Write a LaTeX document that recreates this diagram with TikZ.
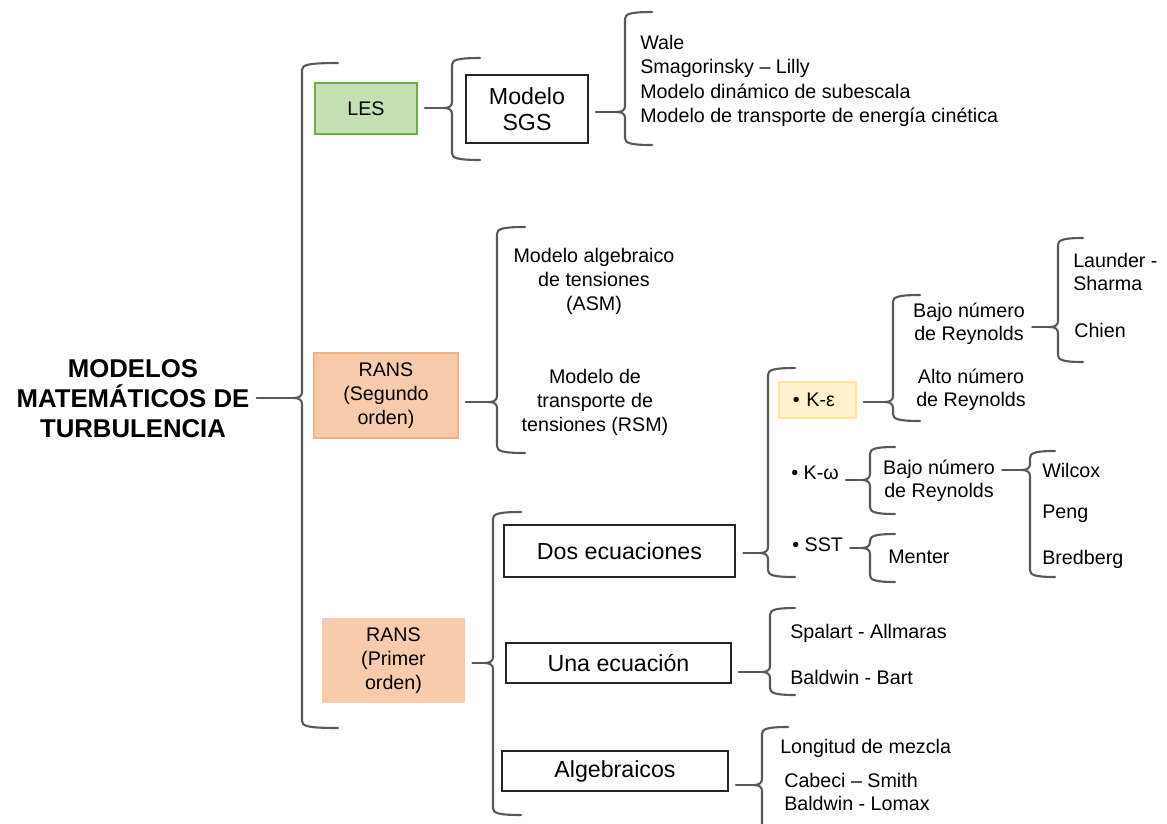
\documentclass[tikz,border=0pt]{standalone}
\usepackage{fontspec}
\setmainfont{Liberation Sans}
\definecolor{gris}{HTML}{595959}
\definecolor{lesfondo}{HTML}{C5E0B4}
\definecolor{lesborde}{HTML}{70AD47}
\definecolor{ransfondo}{HTML}{F8CBAD}
\definecolor{ransborde}{HTML}{F4B183}
\definecolor{kefondo}{HTML}{FFF2CC}
\definecolor{keborde}{HTML}{FFE699}
\tikzset{
  llave/.style={draw=gris, line width=1.5pt, line cap=round},
  tramo/.style={llave, shorten <=5pt},
  texto/.style={inner sep=0pt, font=\fontsize{14}{17.1}\selectfont},
  caja/.style={draw=black!85, line width=1.1pt, inner sep=0pt, align=center, font=\fontsize{16.5}{18.5}\selectfont},
  verde/.style={fill=lesfondo, draw=lesborde, line width=1.2pt, inner sep=0pt, font=\fontsize{14}{17.1}\selectfont},
  naranja/.style={fill=ransfondo, inner sep=0pt, align=center, font=\fontsize{14}{17.1}\selectfont},
  amarilla/.style={fill=kefondo, draw=keborde, line width=1pt, inner xsep=0.35cm, inner ysep=0pt,
    text width=1.225cm, minimum height=0.9cm, align=left, font=\fontsize{14}{17.1}\selectfont},
  titulo/.style={inner sep=0pt, align=center, font=\bfseries\fontsize{18.3}{21.3}\selectfont}
}
\def\llave#1#2#3#4#5#6{
  % 1: x
  % 2: y arriba
  % 3: y abajo
  % 4: y punta
  % 5: brazo
  % 6: nombre de la punta
  \draw[llave] (#1+#5,#2) .. controls (#1+5,#2) and (#1,#2+2) .. (#1,#2+7)
    -- (#1,#4-6) .. controls (#1,#4-2) and (#1-3,#4) .. (#1-8,#4)
    .. controls (#1-3,#4) and (#1,#4+2) .. (#1,#4+6)
    -- (#1,#3-7) .. controls (#1,#3-2) and (#1+5,#3) .. (#1+#5,#3);
  \coordinate (#6) at (#1-8,#4);
}
\begin{document}
\begin{tikzpicture}[x=0.025cm, y=-0.025cm]
  \useasboundingbox (0,0) rectangle (1167,824);
  % nivel 0
  \node[titulo] (modelos) at (133,399) {MODELOS\\MATEMÁTICOS DE\\TURBULENCIA};
  % nivel 1
  \node[verde, minimum width=2.55cm, minimum height=1.275cm] (les) at (366,108.5) {LES};
  \node[naranja, draw=ransborde, line width=1pt, minimum width=3.6cm, minimum height=2.125cm] (ransB) at (386,395.5) {RANS\\(Segundo\\orden)};
  \node[naranja, minimum width=3.575cm, minimum height=2.125cm] (ransA) at (393.5,660.5) {RANS\\(Primer\\orden)};
  % nivel 2
  \node[caja, minimum width=3.05cm, minimum height=1.7cm] (sgs) at (527,109) {Modelo\\SGS};
  \node[caja, line width=1.8pt, minimum width=5.775cm, minimum height=1.3cm] (dos) at (619.5,551) {Dos ecuaciones};
  \node[caja, minimum width=5.625cm, minimum height=1cm] (una) at (618.5,663) {Una ecuación};
  \node[caja, minimum width=5.65cm, minimum height=1cm] (alg) at (615,771) {Algebraicos};
  \node[texto, align=center] (asm) at (594,281) {Modelo algebraico\\de tensiones\\(ASM)};
  \node[texto, align=center] (rsm) at (595,402) {Modelo de\\transporte de\\tensiones (RSM)};
  % LES
  \node[texto, align=left, anchor=west, font=\fontsize{14}{17.4}\selectfont] (sgslista) at (640,81)
    {Wale\\Smagorinsky – Lilly\\Modelo dinámico de subescala\\Modelo de transporte de energía cinética};
  % dos ecuaciones
  \node[amarilla] (keps) at (817.5,400) {• K-ε};
  \node[texto, anchor=west] (komega) at (791,473) {• K-ω};
  \node[texto, anchor=west] (sst) at (792,545) {• SST};
  \node[texto, align=center, font=\fontsize{14}{16.4}\selectfont] (bajoA) at (969,324) {Bajo número\\de Reynolds};
  \node[texto, align=center, font=\fontsize{14}{16.4}\selectfont] (alto) at (971,390) {Alto número\\de Reynolds};
  \node[texto, align=left, anchor=west, font=\fontsize{14}{16.4}\selectfont] (launder) at (1073,272) {Launder -\\Sharma};
  \node[texto, anchor=west] (chien) at (1074,330) {Chien};
  \node[texto, align=center, font=\fontsize{14}{16.4}\selectfont] (bajoB) at (939,481) {Bajo número\\de Reynolds};
  \node[texto, anchor=west] (wilcox) at (1042,470) {Wilcox};
  \node[texto, anchor=west] (peng) at (1042,514) {Peng};
  \node[texto, anchor=west] (bredberg) at (1042,559) {Bredberg};
  \node[texto, anchor=west] (menter) at (888,557) {Menter};
  % una ecuacion y algebraicos
  \node[texto, anchor=west] (spalart) at (790,633) {Spalart - Allmaras};
  \node[texto, anchor=west] (bart) at (790,677) {Baldwin - Bart};
  \node[texto, anchor=west] (longitud) at (780,748) {Longitud de mezcla};
  \node[texto, anchor=west] (cebeci) at (784,780) {Cabeci – Smith};
  \node[texto, anchor=west] (lomax) at (784,803) {Baldwin - Lomax};
  % llaves
  \llave{302}{63}{728}{398}{36}{pmod}
  \llave{452}{58}{160}{108}{28}{ples}
  \llave{625}{12}{145}{112}{27}{psgs}
  \llave{497}{227}{453}{402}{28}{pseg}
  \llave{493}{512}{815}{663}{28}{ppri}
  \llave{768}{368}{577}{553}{27}{pdos}
  \llave{893}{295}{421}{402}{27}{pkeps}
  \llave{1058}{238}{362}{327}{25}{pbajoA}
  \llave{870}{447}{514}{480}{25}{pkom}
  \llave{1030}{451}{577}{470}{25}{pbajoB}
  \llave{870}{534}{582}{548}{25}{psst}
  \llave{770}{608}{695}{672}{25}{puna}
  \llave{762}{727}{835}{785}{26}{palg}
  % tramos
  \draw[tramo] (modelos.east |- pmod) -- (pmod);
  \draw[tramo] (les.east |- ples) -- (ples);
  \draw[tramo] (sgs.east |- psgs) -- (psgs);
  \draw[tramo] (ransB.east |- pseg) -- (pseg);
  \draw[tramo] (ransA.east |- ppri) -- (ppri);
  \draw[tramo] (dos.east |- pdos) -- (pdos);
  \draw[tramo] (keps.east |- pkeps) -- (pkeps);
  \draw[tramo] (bajoA.east |- pbajoA) -- (pbajoA);
  \draw[tramo] (komega.east |- pkom) -- (pkom);
  \draw[tramo] (bajoB.east |- pbajoB) -- (pbajoB);
  \draw[tramo] (sst.east |- psst) -- (psst);
  \draw[tramo] (una.east |- puna) -- (puna);
  \draw[tramo] (alg.east |- palg) -- (palg);
\end{tikzpicture}
\end{document}
